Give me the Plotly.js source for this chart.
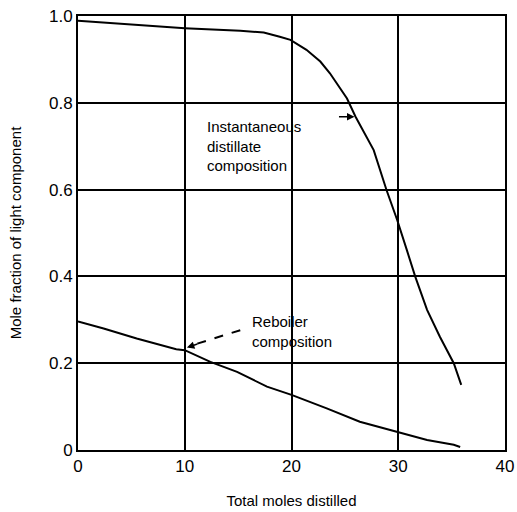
<!DOCTYPE html>
<html>
<head>
<meta charset="utf-8">
<script src="https://cdn.plot.ly/plotly-3.0.1.min.js"></script>
<style>html,body{margin:0;padding:0;background:#fff;}#chart{width:517px;height:512px;}</style>
</head>
<body>
<div id="chart"></div>
<script>
// Instantaneous distillate composition
const distX = [0, 5, 10, 15.2, 17.4, 18.9, 19.9, 21.4, 22.7, 23.6, 24.5, 25.2, 26.0, 26.4, 27.7, 28.9, 29.9, 30.8, 31.6, 32.7, 33.9, 35.2, 35.9];
const distY = [0.989, 0.980, 0.972, 0.966, 0.962, 0.952, 0.945, 0.922, 0.895, 0.868, 0.837, 0.810, 0.768, 0.750, 0.691, 0.599, 0.530, 0.461, 0.399, 0.323, 0.261, 0.200, 0.150];
// Reboiler composition
const rebX = [0, 2.4, 5.5, 9.2, 10, 12.4, 14.9, 17.7, 20.0, 23.3, 26.4, 29.9, 32.7, 35.2, 35.8];
const rebY = [0.296, 0.280, 0.257, 0.232, 0.230, 0.203, 0.180, 0.146, 0.127, 0.096, 0.065, 0.042, 0.023, 0.012, 0.007];

const xTicks = [0, 10, 20, 30, 40];
const xTickText = ['0', '10', '20', '30', '40'];
const yTicks = [0, 0.2, 0.4, 0.6, 0.8, 1.0];
const yTickText = ['0', '0.2', '0.4', '0.6', '0.8', '1.0'];

const font = 'Liberation Sans, Arial, sans-serif';

const traces = [
  {x: distX, y: distY, mode: 'lines', line: {color: '#000', width: 2}, hoverinfo: 'skip', showlegend: false},
  {x: rebX, y: rebY, mode: 'lines', line: {color: '#000', width: 2}, hoverinfo: 'skip', showlegend: false}
];

const layout = {
  width: 517, height: 512,
  margin: {l: 78, r: 12, t: 16, b: 62},
  paper_bgcolor: '#fff', plot_bgcolor: '#fff',
  font: {family: font, color: '#000', size: 14},
  xaxis: {
    range: [0, 40], tickvals: xTicks, ticktext: xTickText,
    showgrid: true, gridcolor: '#000', gridwidth: 2,
    showline: true, linecolor: '#000', linewidth: 2, mirror: true,
    zeroline: false, ticks: '', tickfont: {size: 17, family: font},
    title: {text: 'Total moles distilled', font: {size: 15, family: font}, standoff: 20}
  },
  yaxis: {
    range: [0, 1.0], tickvals: yTicks, ticktext: yTickText,
    showgrid: true, gridcolor: '#000', gridwidth: 2,
    showline: true, linecolor: '#000', linewidth: 2, mirror: true,
    zeroline: false, ticks: '', tickfont: {size: 17, family: font},
    title: {text: 'Mole fraction of light component', font: {size: 15, family: font}, standoff: 24}
  },
  shapes: [
    {type: 'line', xref: 'x', yref: 'y', x0: 15.2, y0: 0.276, x1: 10.5, y1: 0.240,
     line: {color: '#000', width: 2, dash: 'dash'}}
  ],
  annotations: [
    {x: 11.9, y: 0.700, xref: 'x', yref: 'y', xanchor: 'left', yanchor: 'middle', align: 'left',
     text: 'Instantaneous<br>distillate<br>composition', showarrow: false, font: {size: 15, family: font}},
    {x: 25.9, y: 0.768, xref: 'x', yref: 'y', text: '', showarrow: true, arrowhead: 2, arrowsize: 1, arrowwidth: 1.5,
     ax: -17, ay: 0, arrowcolor: '#000'},
    {x: 16.1, y: 0.272, xref: 'x', yref: 'y', xanchor: 'left', yanchor: 'middle', align: 'left',
     text: 'Reboiler<br>composition', showarrow: false, font: {size: 15, family: font}},
    {x: 10.2, y: 0.236, xref: 'x', yref: 'y', text: '', showarrow: true, arrowhead: 2, arrowsize: 1, arrowwidth: 1.5,
     ax: 12, ay: -4, arrowcolor: '#000'}
  ]
};

Plotly.newPlot('chart', traces, layout, {displayModeBar: false, staticPlot: true});
</script>
</body>
</html>
